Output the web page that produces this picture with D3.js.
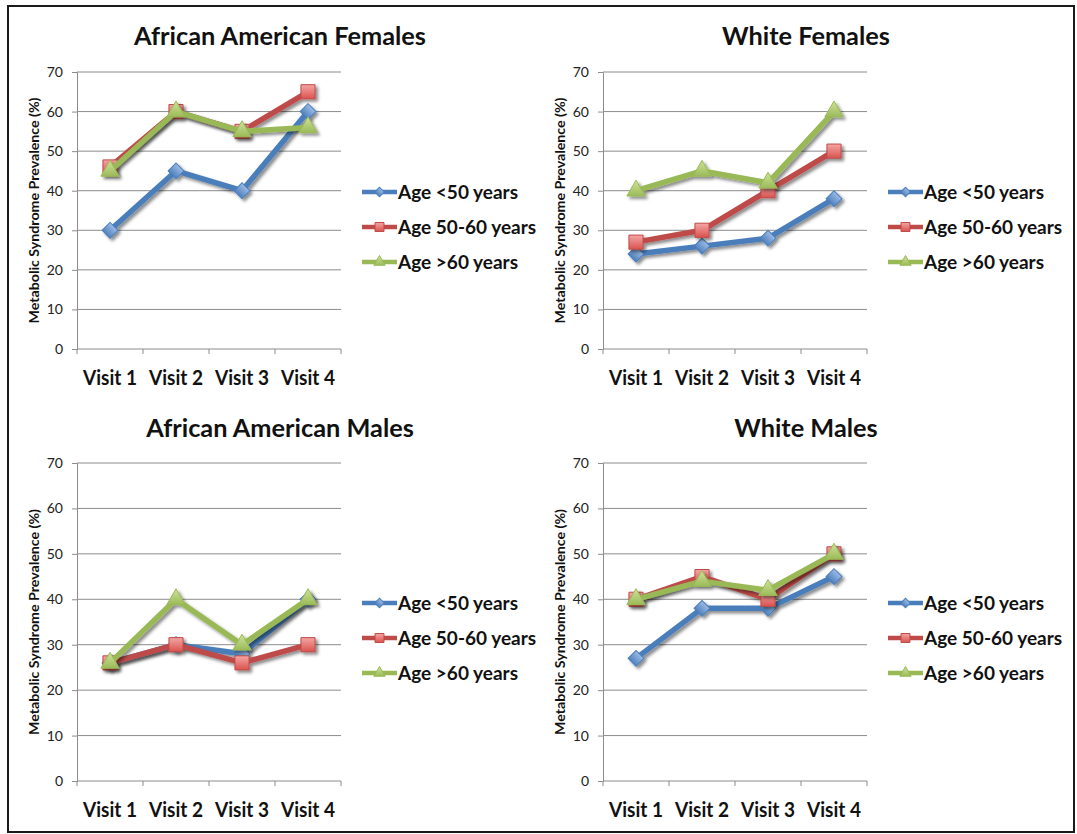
<!DOCTYPE html>
<html><head><meta charset="utf-8">
<script src="https://cdn.jsdelivr.net/npm/d3@7"></script>
<style>body{margin:0;background:#fff}svg{display:block}</style>
</head><body>
<svg id="chart" width="1077" height="834"></svg>
<script>
const visits = ["Visit 1", "Visit 2", "Visit 3", "Visit 4"];
const seriesNames = ["Age <50 years", "Age 50-60 years", "Age >60 years"];
const yTicks = [0, 10, 20, 30, 40, 50, 60, 70];
const panelTitles = ["African American Females", "White Females", "African American Males", "White Males"];
const aaFemales = [[30, 45, 40, 60], [46, 60, 55, 65], [45, 60, 55, 56]];
const whiteFemales = [[24, 26, 28, 38], [27, 30, 40, 50], [40, 45, 42, 60]];
const aaMales = [[26, 30, 28, 40], [26, 30, 26, 30], [26, 40, 30, 40]];
const whiteMales = [[27, 38, 38, 45], [40, 45, 40, 50], [40, 44, 42, 50]];
const yLabel = "Metabolic Syndrome Prevalence (%)";

const panelData = [aaFemales, whiteFemales, aaMales, whiteMales];
const lineColors = ["#4a7ebb", "#be4b48", "#98b954"];
const fillTop = ["#9dbbe6", "#f4a6a4", "#cfe39a"];
const fillBot = ["#4f81bd", "#d9534f", "#9bbb59"];
const markerTypes = [d3.symbolSquare, d3.symbolSquare, d3.symbolTriangle];
const markerRot = [45, 0, 0];
const markerSizes = [125, 200, 145];
const legendSizes = [45, 80, 55];

const svg = d3.select("#chart");
const defs = svg.append("defs");
const f = defs.append("filter").attr("id", "shadow").attr("x", "-30%").attr("y", "-30%").attr("width", "160%").attr("height", "160%");
f.append("feDropShadow").attr("dx", 2.5).attr("dy", 2.5).attr("stdDeviation", 1.6).attr("flood-color", "#000").attr("flood-opacity", 0.45);
fillTop.forEach((c, i) => {
  const g = defs.append("linearGradient").attr("id", "grad" + i).attr("x1", 0).attr("y1", 0).attr("x2", 0).attr("y2", 1);
  g.append("stop").attr("offset", "0%").attr("stop-color", c);
  g.append("stop").attr("offset", "100%").attr("stop-color", fillBot[i]);
});

// outer border
svg.append("rect").attr("x", 8).attr("y", 6).attr("width", 1066).attr("height", 826)
  .attr("fill", "none").attr("stroke", "#1a1a1a").attr("stroke-width", 2);

const FONT = "Lato, 'Open Sans', sans-serif";
const layout = [
  {x0: 77, x1: 341, y0: 72, y1: 349, cx: 280, ty: 45, lx: 362, ly: 192},
  {x0: 603, x1: 867, y0: 72, y1: 349, cx: 806, ty: 45, lx: 888, ly: 192},
  {x0: 77, x1: 341, y0: 463, y1: 781, cx: 280, ty: 437, lx: 362, ly: 603},
  {x0: 603, x1: 867, y0: 463, y1: 781, cx: 806, ty: 437, lx: 888, ly: 603}
];

const titleNodes = [], legendNodes = [], tickNodes = [];

layout.forEach((L, p) => {
  const g = svg.append("g");
  const x = d3.scaleBand().domain(visits).range([L.x0, L.x1]);
  const y = d3.scaleLinear().domain([0, 70]).range([L.y1, L.y0]);

  // gridlines
  g.append("g").selectAll("line").data(yTicks.filter(t => t > 0)).join("line")
    .attr("x1", L.x0).attr("x2", L.x1).attr("y1", d => y(d)).attr("y2", d => y(d))
    .attr("stroke", "#8c8c8c").attr("stroke-width", 1);

  // y axis
  const ya = g.append("g").attr("transform", `translate(${L.x0},0)`)
    .call(d3.axisLeft(y).tickValues(yTicks).tickSize(5).tickPadding(9));
  ya.select(".domain").attr("stroke", "#8c8c8c");
  ya.selectAll(".tick line").attr("stroke", "#8c8c8c");
  ya.selectAll(".tick text").attr("font-family", FONT).attr("font-size", 14).attr("fill", "#222");

  // x axis line and boundary ticks
  g.append("line").attr("x1", L.x0).attr("x2", L.x1).attr("y1", L.y1).attr("y2", L.y1).attr("stroke", "#8c8c8c");
  const bounds = visits.map(v => x(v)).concat([L.x1]);
  g.append("g").selectAll("line").data(bounds).join("line")
    .attr("x1", d => d).attr("x2", d => d).attr("y1", L.y1).attr("y2", L.y1 + 5).attr("stroke", "#8c8c8c");
  g.append("g").selectAll("text").data(visits).join("text")
    .attr("x", d => x(d) + x.bandwidth() / 2).attr("y", L.y1 + 36)
    .attr("text-anchor", "middle").attr("font-family", FONT).attr("font-weight", "bold")
    .attr("font-size", 20).attr("fill", "#111").text(d => d)
    .each(function () { tickNodes.push(this); });

  // y label
  g.append("text").attr("transform", `translate(${L.x0 - 38},${(L.y0 + L.y1) / 2}) rotate(-90)`)
    .attr("text-anchor", "middle").attr("font-family", FONT).attr("font-weight", "bold")
    .attr("font-size", 12.5).attr("fill", "#111").text(yLabel)
    .each(function () { this.__target = 226; });

  // title
  g.append("text").attr("x", L.cx).attr("y", L.ty).attr("text-anchor", "middle")
    .attr("font-family", FONT).attr("font-weight", "bold").attr("font-size", 24).attr("fill", "#111")
    .text(panelTitles[p]).each(function () { titleNodes.push(this); });

  // series
  const cxOf = i => x(visits[i]) + x.bandwidth() / 2;
  const line = d3.line().x((d, i) => cxOf(i)).y(d => y(d));
  panelData[p].forEach((vals, s) => {
    const sg = g.append("g").attr("filter", "url(#shadow)");
    sg.append("path").datum(vals).attr("d", line).attr("fill", "none")
      .attr("stroke", lineColors[s]).attr("stroke-width", 5.5).attr("stroke-linejoin", "round");
    sg.selectAll("path.m").data(vals).join("path").attr("class", "m")
      .attr("transform", (d, i) => `translate(${cxOf(i)},${y(d)}) rotate(${markerRot[s]})`)
      .attr("d", d3.symbol().type(markerTypes[s]).size(markerSizes[s]))
      .attr("fill", `url(#grad${s})`).attr("stroke", lineColors[s]).attr("stroke-width", 1);
  });

  // legend
  seriesNames.forEach((name, s) => {
    const yy = L.ly + s * 35;
    const lg = g.append("g");
    lg.append("line").attr("x1", L.lx).attr("x2", L.lx + 35).attr("y1", yy).attr("y2", yy)
      .attr("stroke", lineColors[s]).attr("stroke-width", 4.5);
    lg.append("path").attr("transform", `translate(${L.lx + 17.5},${yy}) rotate(${markerRot[s]})`)
      .attr("d", d3.symbol().type(markerTypes[s]).size(legendSizes[s]))
      .attr("fill", `url(#grad${s})`).attr("stroke", lineColors[s]).attr("stroke-width", 1);
    lg.append("text").attr("x", L.lx + 36).attr("y", yy + 6.5)
      .attr("font-family", FONT).attr("font-weight", "bold").attr("font-size", 19).attr("fill", "#111")
      .text(name).each(function () { legendNodes.push(this); });
  });
});

// condense text to Calibri-like widths
function condense(nodes, refIdx, target) {
  const w = nodes[refIdx].getComputedTextLength();
  const k = target / w;
  nodes.forEach(n => {
    const l = n.getComputedTextLength();
    d3.select(n).attr("textLength", l * k).attr("lengthAdjust", "spacingAndGlyphs");
  });
}
condense(titleNodes, 0, 292);
condense(legendNodes, 0, 120);
condense(tickNodes, 0, 54);
svg.selectAll("text").each(function () {
  if (this.__target) d3.select(this).attr("textLength", this.__target).attr("lengthAdjust", "spacingAndGlyphs");
});
</script>
</body></html>
